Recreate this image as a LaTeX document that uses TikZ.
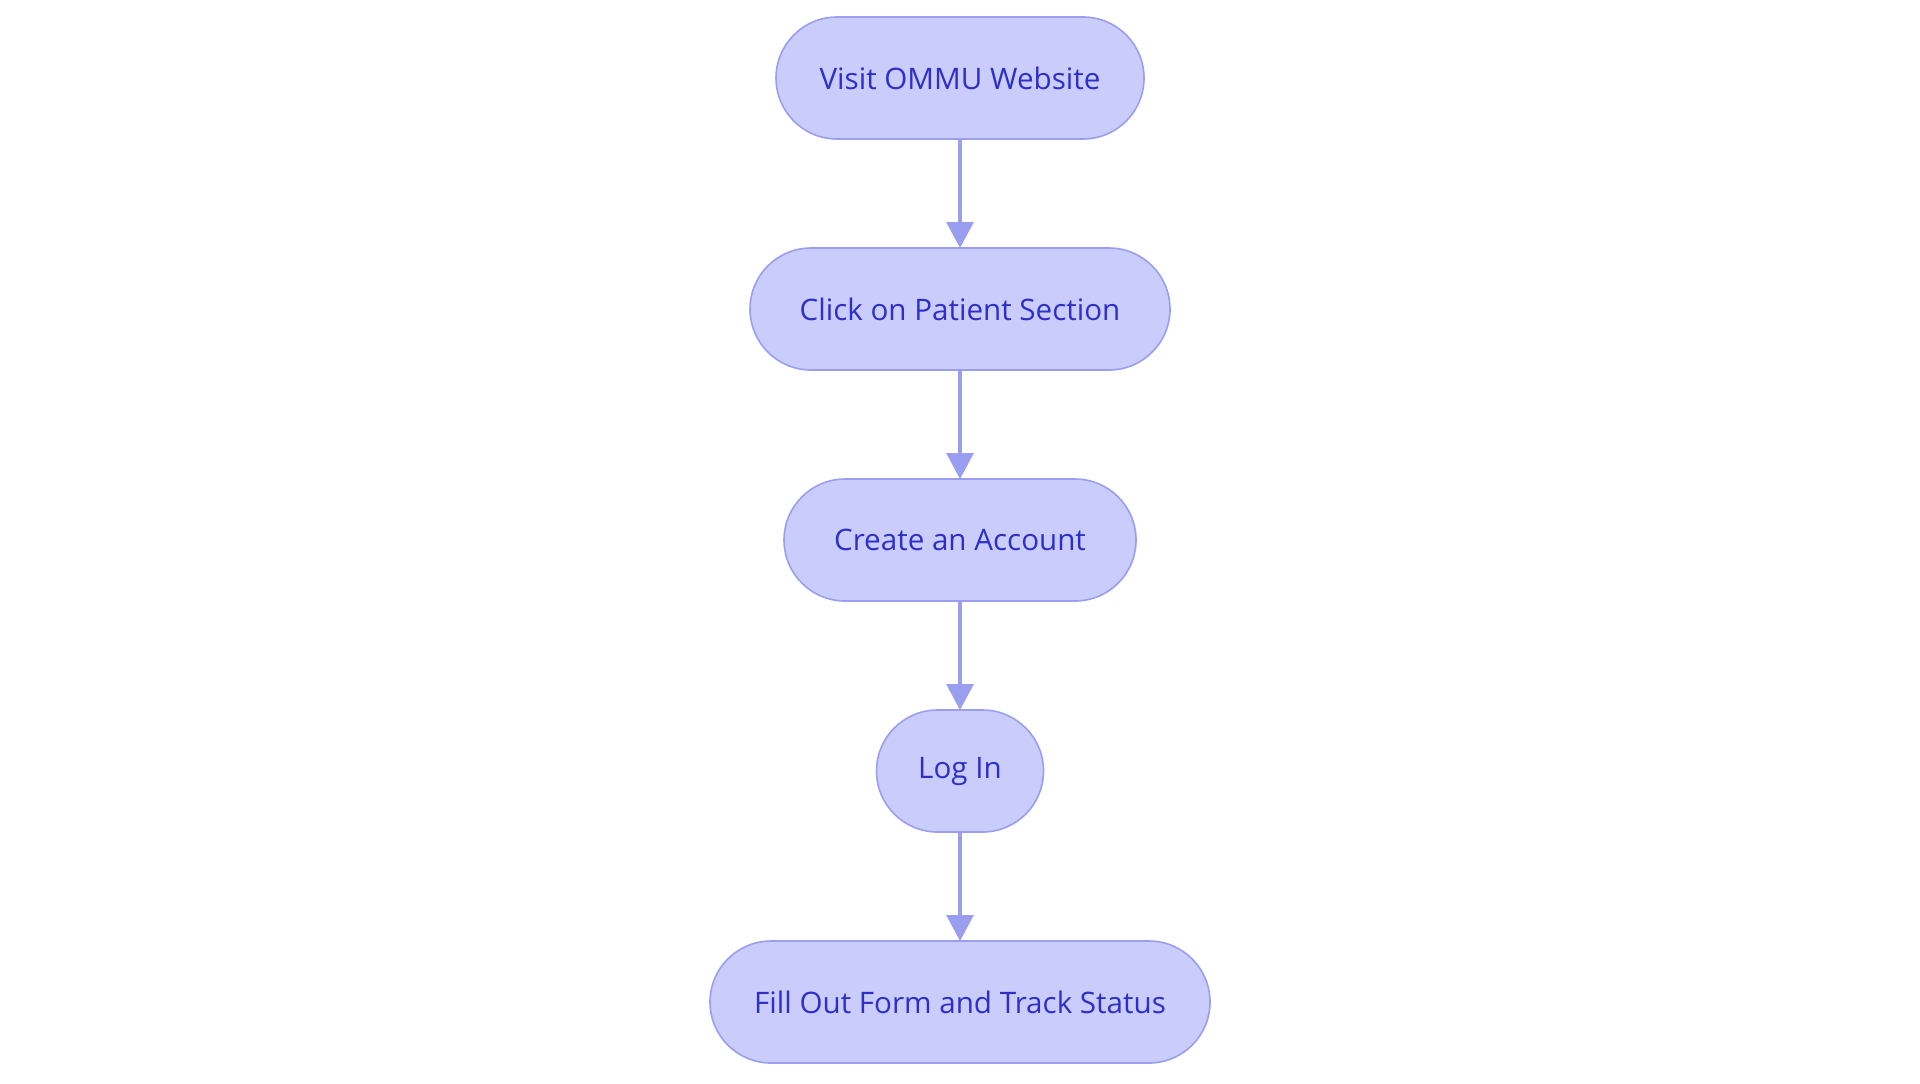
\documentclass[tikz,border=0pt]{standalone}
\usepackage{fontspec}
\setmainfont{Open Sans}
\usepackage{xcolor}
\usepackage{tikz}
\usetikzlibrary{arrows.meta, positioning}

\definecolor{stepfill}{RGB}{202,204,252}
\definecolor{stepline}{RGB}{154,158,240}
\definecolor{steptext}{RGB}{44,48,200}

\begin{document}
\begin{tikzpicture}[>={Triangle[length=13pt,width=13.5pt]}, node distance=54.5pt,
    stepbox/.style={rectangle, rounded corners=30.5pt, draw=stepline, line width=0.8pt,
        fill=stepfill, text=steptext, minimum height=61pt, outer sep=0pt,
        inner sep=0pt, font=\fontsize{14.8pt}{18pt}\selectfont},
    flow/.style={->, draw=stepline, line width=1.6pt}]
        % page frame
        \useasboundingbox (0,0) rectangle (960pt,-541.5pt);

        % Steps
        \node[stepbox, minimum width=184pt] (visit) at (480pt,-39pt) {Visit OMMU Website};
        \node[stepbox, minimum width=210pt, below=of visit] (patient) {Click on Patient Section};
        \node[stepbox, minimum width=176pt, below=of patient] (account) {Create an Account};
        \node[stepbox, minimum width=83.5pt, below=of account] (login) {Log In};
        \node[stepbox, minimum width=250pt, below=of login] (form) {Fill Out Form and Track Status};

        % Arrows
        \draw[flow] (visit) -- (patient);
        \draw[flow] (patient) -- (account);
        \draw[flow] (account) -- (login);
        \draw[flow] (login) -- (form);
    \end{tikzpicture}
\end{document}
